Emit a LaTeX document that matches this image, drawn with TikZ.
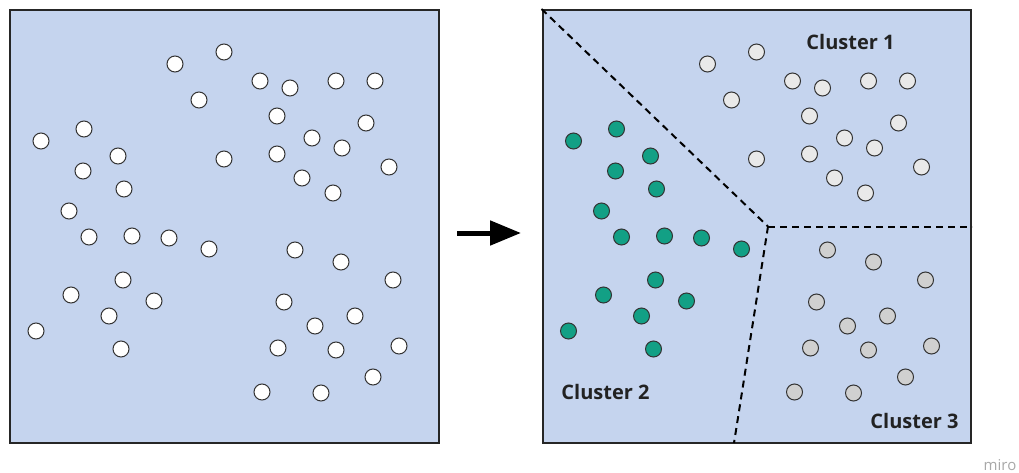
\documentclass[tikz,border=0pt]{standalone}
\usepackage{fontspec}
\setmainfont{Open Sans}
\usetikzlibrary{arrows.meta}
\definecolor{boxfill}{HTML}{C5D4EE}
\definecolor{boxline}{HTML}{262626}
\definecolor{dotline}{HTML}{333333}
\definecolor{greendot}{HTML}{12A085}
\definecolor{c1dot}{HTML}{E9E9E9}
\definecolor{c3dot}{HTML}{D0D0D0}
\definecolor{labeltext}{HTML}{222222}
\definecolor{wm}{HTML}{A8A8A8}
\tikzset{
  panel/.style={draw=boxline, fill=boxfill, line width=2pt, minimum width=428.5pt, minimum height=433pt, inner sep=0pt},
  dot/.style={circle, draw=dotline, line width=1pt, minimum size=16pt, inner sep=0pt},
  divider/.style={line width=2pt, dash pattern=on 7pt off 5pt, draw=black},
  bigarrow/.style={line width=5pt, -{Triangle[length=31pt,width=24pt]}},
  clabel/.style={font=\bfseries\fontsize{20}{24}\selectfont, text=labeltext, inner sep=0pt}
}
\begin{document}
\begin{tikzpicture}[x=1pt,y=-1pt]
\useasboundingbox (0,0) rectangle (1019,473);
% panels
\node[panel] (L) at (224.25,226.5) {};
\node[panel] (R) at (756.75,226.5) {};
% left dots (all white)
\foreach \x/\y [count=\i] in {
 175/64, 224/52, 199/100, 224/159, 260/81, 290/88, 336/81, 375/81, 277/116, 366/123, 312/138, 342/148, 277/154, 389/167, 302/178, 333/193,
 41/141, 84/129, 118/156, 83/171, 124/189, 69/211, 89/237, 132/236, 169/238, 209/249, 123/280, 71/295, 154/301, 109/316, 36/331, 121/349,
 295/250, 341/262, 393/280, 284/302, 355/316, 315/326, 278/348, 336/350, 399/346, 373/377, 262/392, 321/393}
  \node[dot, fill=white] (l\i) at (\x,\y) {};
% right: cluster 1
\foreach \x/\y [count=\i] in {
 175/64, 224/52, 199/100, 224/159, 260/81, 290/88, 336/81, 375/81, 277/116, 366/123, 312/138, 342/148, 277/154, 389/167, 302/178, 333/193}
  \node[dot, fill=c1dot] (a\i) at (\x+532.5,\y) {};
% right: cluster 2
\foreach \x/\y [count=\i] in {
 41/141, 84/129, 118/156, 83/171, 124/189, 69/211, 89/237, 132/236, 169/238, 209/249, 123/280, 71/295, 154/301, 109/316, 36/331, 121/349}
  \node[dot, fill=greendot] (b\i) at (\x+532.5,\y) {};
% right: cluster 3
\foreach \x/\y [count=\i] in {
 295/250, 341/262, 393/280, 284/302, 355/316, 315/326, 278/348, 336/350, 399/346, 373/377, 262/392, 321/393}
  \node[dot, fill=c3dot] (c\i) at (\x+532.5,\y) {};
% dividers
\coordinate (J) at (768,226.5);
\coordinate (B) at (734,443);
\draw[divider] (R.north west) -- (J);
\draw[divider] (J) -- (R.east);
\draw[divider] (J) -- (B);
% labels
\node[clabel] (t1) at (850.5,42) {Cluster 1};
\node[clabel] (t2) at (605.5,392) {Cluster 2};
\node[clabel] (t3) at (914.5,421) {Cluster 3};
% arrow
\coordinate (A1) at (457,233);
\coordinate (A2) at (521,233);
\draw[bigarrow] (A1) -- (A2);
% watermark
\node[font=\fontsize{15}{18}\selectfont, text=wm, inner sep=0pt] (wmk) at (1000,465) {miro};
\end{tikzpicture}
\end{document}
